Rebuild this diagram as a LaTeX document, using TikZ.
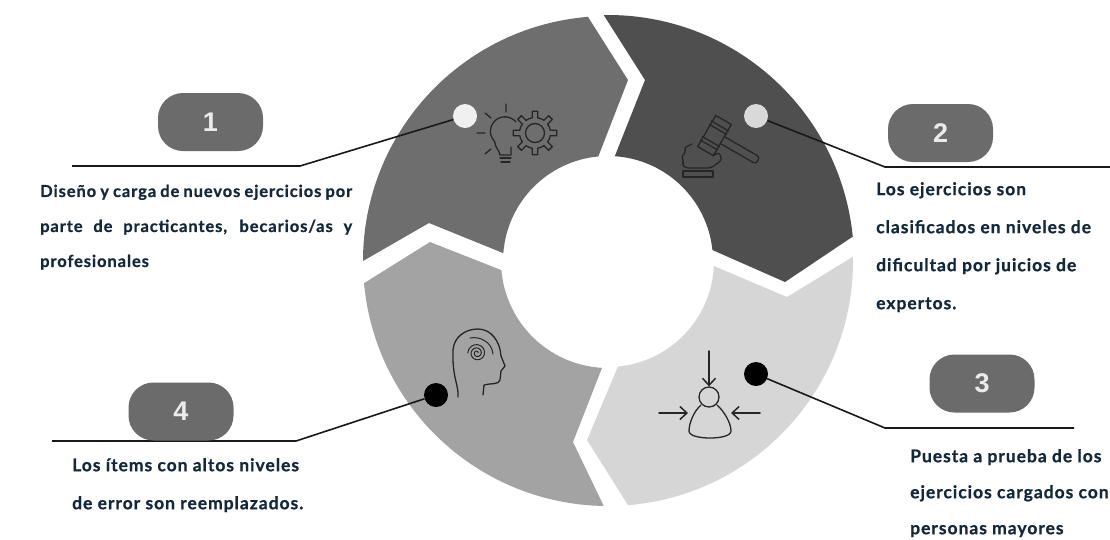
\documentclass[tikz,border=0pt]{standalone}
\usepackage{fontspec}
\setmainfont{Lato}[LetterSpace=5.5,BoldFeatures={FakeBold=0.7}]
\newfontfamily\pillfont{Liberation Sans}
\usetikzlibrary{positioning,calc,arrows.meta}
\definecolor{inkblue}{HTML}{14283C}
\begin{document}
\begin{tikzpicture}[
      x=1pt, y=1pt,
      seg/.style={draw=none},
      pill/.style={fill=black!58, rounded corners=25pt, minimum width=105pt, minimum height=58pt,
                   inner sep=0pt, text=white!92!black, font=\pillfont\bfseries\fontsize{27}{27}\selectfont},
      dotmark/.style={circle, inner sep=0pt, minimum size=24pt},
      lead/.style={draw=black!90, line width=1.6pt},
      desc/.style={anchor=north west, inner sep=0pt, text=inkblue, align=left,
                   font=\bfseries\fontsize{17.5}{38}\selectfont},
      icon/.style={draw=black!85, line width=1.3pt, line join=round, line cap=round},
      iconarr/.style={icon, line width=1.5pt, -{Straight Barb[length=7pt,width=13pt]}},
    ]
    \useasboundingbox[fill=white] (0,0) rectangle (1110,-539);
    \coordinate (ctr) at (608,-261);

    % ---------- ring segments ----------
    \fill[seg, black!57] ($(ctr)+(180:245)$) arc[start angle=180, end angle=94.7, radius=245]
      -- (628,-80) -- ($(ctr)+(95.3:105)$) arc[start angle=95.3, end angle=175.7, radius=105]
      -- (429,-223) -- cycle;
    \fill[seg, black!69] ($(ctr)+(91:246)$) arc[start angle=91, end angle=5.7, radius=246]
      -- (785,-282) -- ($(ctr)+(6:105)$) arc[start angle=6, end angle=86.3, radius=105]
      -- (645,-80) -- cycle;
    \fill[seg, black!16] ($(ctr)+(1:245)$) arc[start angle=1, end angle=-85.3, radius=245]
      -- (587,-440) -- ($(ctr)+(-84.6:106)$) arc[start angle=-84.6, end angle=-2.7, radius=106]
      -- (787,-297) -- cycle;
    \fill[seg, black!36] ($(ctr)+(185.2:245)$) arc[start angle=185.2, end angle=269, radius=245]
      -- (573,-442) -- ($(ctr)+(266.8:107)$) arc[start angle=266.8, end angle=184.9, radius=107]
      -- (430,-242) -- cycle;

    % ---------- bulb and gear ----------
    \coordinate (gear) at (535,-133);
    \draw[icon] (gear) circle (9.5);
    \foreach \a in {0,45,...,315}
      \draw[icon] ($(gear)+(\a-10:15.5)$) -- ($(gear)+(\a-7:22)$) -- ($(gear)+(\a+7:22)$) -- ($(gear)+(\a+10:15.5)$)
        arc[start angle=\a+10, end angle=\a+35, radius=15.5];
    \draw[icon] (516,-122) arc[start angle=40, end angle=225, radius=14.5]
      .. controls (495,-148) and (499,-149) .. (500,-155) -- (511,-155) -- (511,-147);
    \draw[icon] (500,-158) -- (511,-158) (501,-162) -- (510,-162);
    \draw[icon] (506,-104) -- (506,-112) (485,-113) -- (491,-118) (477,-133) -- (485,-133) (485,-154) -- (491,-149);

    % ---------- gavel ----------
    \begin{scope}[shift={(714.5,-135.5)}, rotate=-30]
      \draw[icon] (-9,-18) rectangle (9,18);
      \draw[icon] (-10,-11) -- (10,-11) (-10,-7) -- (10,-7) (-10,7) -- (10,7) (-10,11) -- (10,11);
      \draw[icon, rounded corners=3pt] (9,4) -- (50,4) -- (50,-4) -- (9,-4);
    \end{scope}
    \draw[icon, rounded corners=3pt] (692,-144) -- (684,-148) -- (686,-153) -- (681,-156) -- (684,-161) -- (682,-165)
      -- (686,-168) -- (711,-168) -- (722,-160) -- (719,-152) -- (713,-156);
    \draw[icon] (683,-171) -- (713,-171) -- (713,-177) -- (683,-177) -- cycle;

    % ---------- head ----------
    \draw[icon] (458,-397) .. controls (459,-385) and (452,-378) .. (453,-350)
      .. controls (454,-337) and (465,-329) .. (478,-329)
      .. controls (491,-329) and (500,-341) .. (501,-356)
      -- (505,-366) -- (501,-371) -- (500,-380) .. controls (499,-385) and (490,-383) .. (484,-385) -- (483,-395);
    \draw[icon, line width=1pt] plot[domain=0:900, samples=80]
      ({477+(1+\x*0.009)*cos(\x)}, {-353+(1+\x*0.009)*sin(\x)});
    \draw[icon, line width=1pt] (470,-338) .. controls (480,-336) and (492,-342) .. (493,-354);

    % ---------- person ----------
    \node[circle, icon, minimum size=20pt, inner sep=0pt] (pershead) at (709,-397) {};
    \draw[icon] (701,-405) .. controls (694,-411) and (689,-423) .. (689,-431)
      .. controls (689,-436) and (700,-438) .. (710,-438)
      .. controls (720,-438) and (731,-436) .. (731,-431)
      .. controls (731,-423) and (724,-411) .. (717,-405);
    \coordinate (arrtop) at (709,-351);
    \coordinate (arrleft) at (659,-413);
    \coordinate (arrright) at (760,-413);
    \draw[iconarr] (arrtop) -- (pershead.north);
    \draw[iconarr] (arrleft) -- (688,-413);
    \draw[iconarr] (arrright) -- (731,-413);

    % ---------- markers and leaders ----------
    \node[dotmark, fill=black!6] (dot1) at (465,-116) {};
    \node[dotmark, fill=black!15] (dot2) at (756,-116) {};
    \node[dotmark, fill=black] (dot3) at (756,-374) {};
    \node[dotmark, fill=black] (dot4) at (436,-395) {};

    \coordinate (bend1) at (300,-166);
    \coordinate (end1) at (72,-166);
    \coordinate (bend2) at (885,-167);
    \coordinate (end2) at (1110,-167);
    \coordinate (bend3) at (885,-428);
    \coordinate (end3) at (1074,-428);
    \coordinate (bend4) at (296,-441);
    \coordinate (end4) at (52,-441);
    \draw[lead] (dot1) -- (bend1) -- (end1);
    \draw[lead] (dot2) -- (bend2) -- (end2);
    \draw[lead] (dot3) -- (bend3) -- (end3);
    \draw[lead] (dot4) -- (bend4) -- (end4);

    % ---------- numbers ----------
    \node[pill] (num1) at (210.5,-122) {1};
    \node[pill] (num2) at (940.5,-133) {2};
    \node[pill] (num3) at (982,-383.5) {3};
    \node[pill] (num4) at (181,-411.5) {4};

    % ---------- texts ----------
    \node[desc, text width=312pt, align=justify, font=\bfseries\fontsize{16.5}{35}\selectfont] (txt1) at (40,-184.5)
      {Diseño y carga de nuevos ejercicios por\linebreak
       parte de practicantes, becarios/as y\linebreak
       profesionales};
    \node[desc] (txt2) at (876,-182)
      {Los ejercicios son\\clasificados en niveles de\\dificultad por juicios de\\expertos.};
    \node[desc, font=\bfseries\fontsize{17.5}{36}\selectfont] (txt3) at (910,-449)
      {Puesta a prueba de los\\ejercicios cargados con\\personas mayores};
    \node[desc] (txt4) at (72,-458)
      {Los ítems con altos niveles\\de error son reemplazados.};
  \end{tikzpicture}
\end{document}
